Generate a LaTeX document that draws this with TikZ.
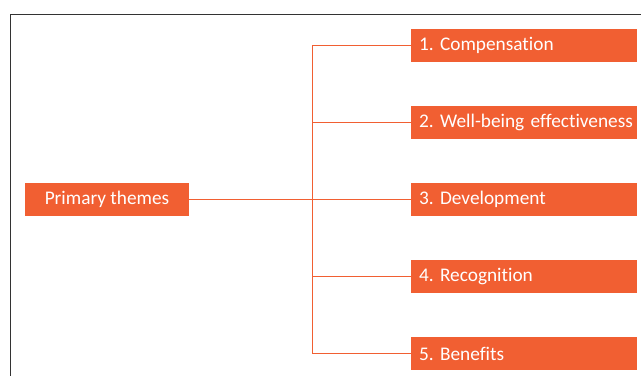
\documentclass[tikz,border=0pt]{standalone}
\usepackage{fontspec}
\setmainfont{Carlito}[Ligatures=NoCommon]
\frenchspacing
\definecolor{themeorange}{HTML}{F15F32}
\definecolor{frameline}{HTML}{333333}
\begin{document}
\begin{tikzpicture}[x=1pt,y=1pt,
  theme/.style={rectangle, fill=themeorange, text=white, minimum height=33pt,
    inner sep=0pt, font=\fontsize{19.3}{22}\selectfont},
  centralbox/.style={theme, minimum width=164pt},
  itembox/.style={theme, minimum width=226pt, text width=210pt, align=left},
  link/.style={draw=themeorange, line width=1pt}]
\useasboundingbox (0,0) rectangle (641,-376);
% outer frame, open to the right and bottom
\draw[frameline, line width=1pt] (641,-14) -- (10,-14) -- (10,-376);
% central node and the five themes
\node[centralbox] (primary) at (107,-199.5) {Primary themes};
\node[itembox] (t1) at (524,-45.5) {\mbox{1. Compensation}};
\node[itembox] (t2) at (524,-122.5) {\mbox{2. Well-being effectiveness}};
\node[itembox] (t3) at (524,-199.5) {\mbox{3. Development}};
\node[itembox] (t4) at (524,-276.5) {\mbox{4. Recognition}};
\node[itembox] (t5) at (524,-353.5) {\mbox{5. Benefits}};
% branching connectors
\coordinate (hub) at (312,-199.5);
\draw[link] (primary.east) -- (hub);
\foreach \t in {t1,t2,t3,t4,t5}
  \draw[link] (hub) |- (\t.west);
\end{tikzpicture}
\end{document}
